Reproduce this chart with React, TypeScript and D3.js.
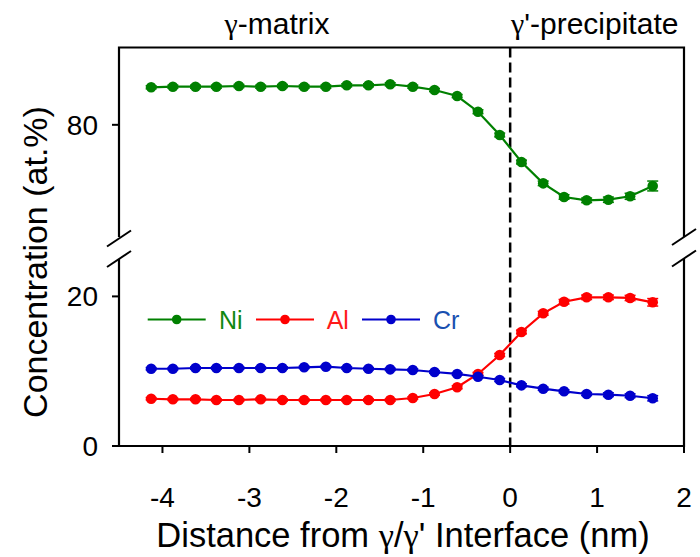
import React from "react";
import * as d3 from "d3";

const distance = [-4.13, -3.88, -3.62, -3.38, -3.12, -2.87, -2.62, -2.37, -2.12, -1.88, -1.63, -1.38, -1.12, -0.87, -0.61, -0.37, -0.12, 0.13, 0.38, 0.62, 0.88, 1.13, 1.38, 1.64];
const ni = [84.95, 85.03, 85.03, 85.03, 85.12, 85.03, 85.12, 85.03, 85.03, 85.21, 85.21, 85.35, 85.03, 84.59, 83.8, 81.73, 78.66, 75.09, 72.28, 70.48, 70.04, 70.12, 70.57, 71.93];
const niErr = [0.2, 0.2, 0.2, 0.2, 0.2, 0.2, 0.2, 0.2, 0.2, 0.2, 0.2, 0.2, 0.2, 0.2, 0.2, 0.25, 0.25, 0.25, 0.3, 0.3, 0.3, 0.35, 0.4, 0.65];
const al = [6.32, 6.24, 6.24, 6.15, 6.15, 6.24, 6.15, 6.15, 6.15, 6.15, 6.15, 6.15, 6.42, 6.95, 7.85, 9.63, 12.17, 15.24, 17.74, 19.29, 19.88, 19.88, 19.79, 19.21];
const alErr = [0.15, 0.15, 0.15, 0.15, 0.15, 0.15, 0.15, 0.15, 0.15, 0.15, 0.15, 0.15, 0.15, 0.15, 0.2, 0.2, 0.2, 0.25, 0.25, 0.3, 0.3, 0.3, 0.35, 0.5];
const cr = [10.33, 10.33, 10.43, 10.43, 10.43, 10.43, 10.43, 10.52, 10.6, 10.43, 10.33, 10.25, 10.16, 9.89, 9.63, 9.26, 8.82, 8.11, 7.66, 7.31, 6.95, 6.86, 6.72, 6.38];
const crErr = [0.15, 0.15, 0.15, 0.15, 0.15, 0.15, 0.15, 0.15, 0.15, 0.15, 0.15, 0.15, 0.15, 0.15, 0.15, 0.15, 0.2, 0.2, 0.2, 0.2, 0.2, 0.25, 0.25, 0.35];

const xTicks = [-4, -3, -2, -1, 0, 1, 2];
const topTicks = [80];
const bottomTicks = [0, 20];
const seriesNames = ["Ni", "Al", "Cr"];

const FONT = "'Liberation Sans', Arial, sans-serif";
const GREEK = "'Liberation Serif', 'Times New Roman', serif";
const GREEN = "#008000";
const RED = "#ff0000";
const BLUE = "#0000cc";

const left = 119;
const right = 684;
const top = 47.5;
const topPanelBottom = 237;
const bottomPanelTop = 259;
const bottom = 446;

const G = (s: string) => <tspan fontFamily={GREEK}>{s}</tspan>;

export default function App() {
  const x = d3.scaleLinear().domain([-4.5, 2]).range([left, right]);
  const yTop = d3.scaleLinear().domain([65.2, 90.2]).range([topPanelBottom, top]);
  const yBot = d3.scaleLinear().domain([0, 25]).range([bottom, bottomPanelTop]);

  const series = [
    { name: seriesNames[0], vals: ni, err: niErr, y: yTop, color: GREEN, text: "#118811" },
    { name: seriesNames[1], vals: al, err: alErr, y: yBot, color: RED, text: "#ff1a1a" },
    { name: seriesNames[2], vals: cr, err: crErr, y: yBot, color: BLUE, text: "#1a50b0" },
  ];

  const breakMark = (cx: number, cy: number, key: string) => (
    <line key={key} x1={cx - 12} y1={cy + 8} x2={cx + 12} y2={cy - 8} stroke="#000" strokeWidth={2} />
  );

  const legendY = 319.5;
  const legendItems = [
    { x1: 147.7, x2: 205.7, tx: 219 },
    { x1: 256, x2: 314, tx: 326.7 },
    { x1: 362, x2: 420, tx: 433 },
  ];

  return (
    <svg width={700} height={557} style={{ position: "absolute", left: 0, top: 0, background: "#fff" }} fontFamily={FONT}>
      <rect width={700} height={557} fill="#fff" />
      <line x1={x(0)} x2={x(0)} y1={top} y2={bottom} stroke="#000" strokeWidth={2.5} strokeDasharray="10,5" />

      {series.map((s) => {
        const line = d3
          .line<number>()
          .x((_, i) => x(distance[i]))
          .y((v) => s.y(v));
        return (
          <g key={s.name}>
            <path d={line(s.vals) || ""} fill="none" stroke={s.color} strokeWidth={2.2} />
            {s.vals.map((v, i) => {
              const cx = x(distance[i]);
              const y1 = s.y(v - s.err[i]);
              const y2 = s.y(v + s.err[i]);
              return (
                <g key={i} stroke={s.color} strokeWidth={1.5}>
                  <line x1={cx} x2={cx} y1={y1} y2={y2} />
                  <line x1={cx - 5.5} x2={cx + 5.5} y1={y1} y2={y1} />
                  <line x1={cx - 5.5} x2={cx + 5.5} y1={y2} y2={y2} />
                </g>
              );
            })}
            {s.vals.map((v, i) => (
              <circle key={"c" + i} cx={x(distance[i])} cy={s.y(v)} r={5.3} fill={s.color} />
            ))}
          </g>
        );
      })}

      <path d={`M${left},${topPanelBottom}V${top}H${right}V${topPanelBottom}`} fill="none" stroke="#000" strokeWidth={2.2} />
      <path d={`M${left},${bottomPanelTop}V${bottom}H${right}V${bottomPanelTop}`} fill="none" stroke="#000" strokeWidth={2.2} />

      {breakMark(left, topPanelBottom + 1.5, "b1")}
      {breakMark(left, bottomPanelTop, "b2")}
      {breakMark(right, topPanelBottom, "b3")}
      {breakMark(right, bottomPanelTop - 0.5, "b4")}

      {topTicks.map((t) => (
        <g key={"tt" + t}>
          <line x1={left - 7} x2={left} y1={yTop(t)} y2={yTop(t)} stroke="#000" strokeWidth={2} />
          <text x={98} y={yTop(t)} dy="0.35em" textAnchor="end" fontSize={28}>{t}</text>
        </g>
      ))}
      {bottomTicks.map((t) => (
        <g key={"bt" + t}>
          <line x1={left - 7} x2={left} y1={yBot(t)} y2={yBot(t)} stroke="#000" strokeWidth={2} />
          <text x={98} y={yBot(t)} dy="0.35em" textAnchor="end" fontSize={28}>{t}</text>
        </g>
      ))}
      {xTicks.map((t) => (
        <g key={"xt" + t}>
          <line x1={x(t)} x2={x(t)} y1={bottom} y2={bottom + 7} stroke="#000" strokeWidth={2} />
          <text x={x(t)} y={507} textAnchor="middle" fontSize={28}>{t < 0 ? "-" + Math.abs(t) : t}</text>
        </g>
      ))}

      {series.map((s, i) => {
        const it = legendItems[i];
        return (
          <g key={"lg" + s.name}>
            <line x1={it.x1} x2={it.x2} y1={legendY} y2={legendY} stroke={s.color} strokeWidth={2} />
            <circle cx={(it.x1 + it.x2) / 2} cy={legendY} r={4.8} fill={s.color} />
            <text x={it.tx} y={legendY} dy="0.36em" fontSize={25} fill={s.text}>{s.name}</text>
          </g>
        );
      })}

      <text x={277} y={34} textAnchor="middle" fontSize={30}>{G("γ")}-matrix</text>
      <text x={511} y={34} fontSize={30}>{G("γ")}'-precipitate</text>
      <text x={403} y={547} textAnchor="middle" fontSize={34.5}>Distance from {G("γ")}/{G("γ")}' Interface (nm)</text>
      <text transform={`translate(47,262) rotate(-90)`} textAnchor="middle" fontSize={34}>Concentration (at.%)</text>
    </svg>
  );
}
